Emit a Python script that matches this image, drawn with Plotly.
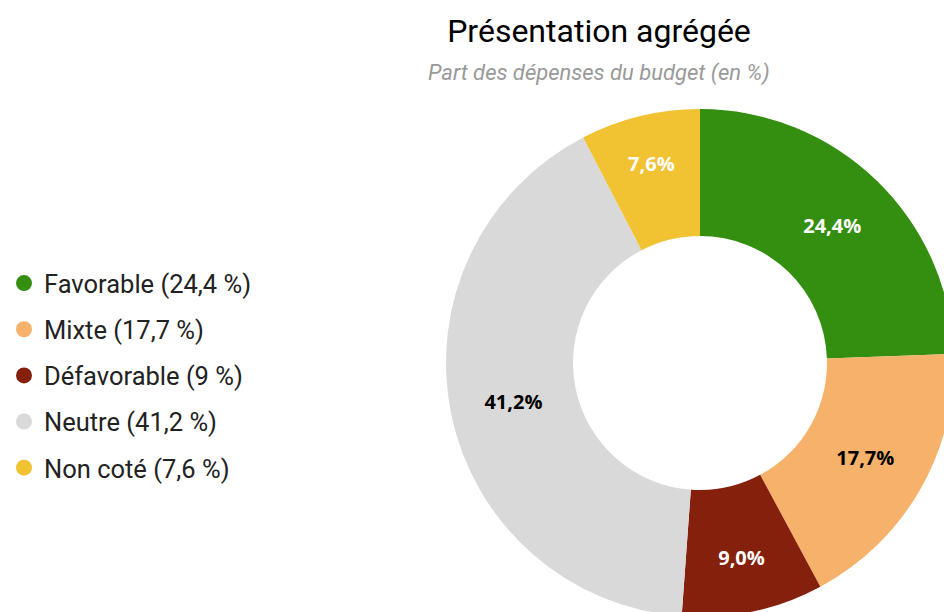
import plotly.graph_objects as go

# données
categories = ["Favorable", "Mixte", "Défavorable", "Neutre", "Non coté"]
valeurs = [24.4, 17.7, 9.0, 41.2, 7.6]
couleurs = ["#348F10", "#F6B26B", "#85200C", "#D9D9D9", "#F1C232"]
couleurs_texte = ["white", "black", "white", "black", "white"]

W, H = 960, 640

def fmt(v):
    return f"{v:g}".replace(".", ",")

fig = go.Figure()

fig.add_trace(go.Pie(
    labels=categories,
    values=valeurs,
    marker=dict(colors=couleurs, line=dict(width=0)),
    hole=0.5,
    sort=False,
    direction="clockwise",
    rotation=0,
    textposition="inside",
    insidetextorientation="horizontal",
    texttemplate="<b>%{value:.1f}%</b>",
    textfont=dict(family="Open Sans", size=20, color=couleurs_texte),
    showlegend=False,
    domain=dict(x=[446 / W, 954 / W], y=[1 - 617 / H, 1 - 109 / H]),
))

# légende avec des ronds
for i, (cat, v, c) in enumerate(zip(categories, valeurs, couleurs)):
    fig.add_trace(go.Scatter(
        x=[None], y=[None], mode="markers",
        marker=dict(symbol="circle", size=20, color=c),
        name=f"{cat} ({fmt(v)} %)",
        legendgroup=str(i),
    ))

fig.update_layout(
    width=W, height=H,
    margin=dict(l=0, r=0, t=0, b=0),
    paper_bgcolor="white", plot_bgcolor="white",
    separators=", ",
    font=dict(family="Roboto", color="#222222"),
    xaxis=dict(visible=False), yaxis=dict(visible=False),
    title=dict(text="Présentation agrégée", x=599 / W, xanchor="center",
               y=1 - 31 / H, yanchor="middle",
               font=dict(family="Roboto", size=32, color="black")),
    legend=dict(x=4 / W, xanchor="left", y=1 - 260 / H, yanchor="top",
                font=dict(family="Roboto", size=25.5, color="#222222"),
                tracegroupgap=10, itemsizing="trace"),
    annotations=[dict(text="<i>Part des dépenses du budget (en %)</i>",
                      x=599 / W, y=1 - 73 / H, xref="paper", yref="paper",
                      xanchor="center", yanchor="middle", showarrow=False,
                      font=dict(family="Roboto", size=22, color="#999999"))],
)

fig.write_html("out.html", config={"displayModeBar": False},
               post_script="document.documentElement.style.overflow='hidden';document.body.style.overflow='hidden';document.body.style.margin='0';")
